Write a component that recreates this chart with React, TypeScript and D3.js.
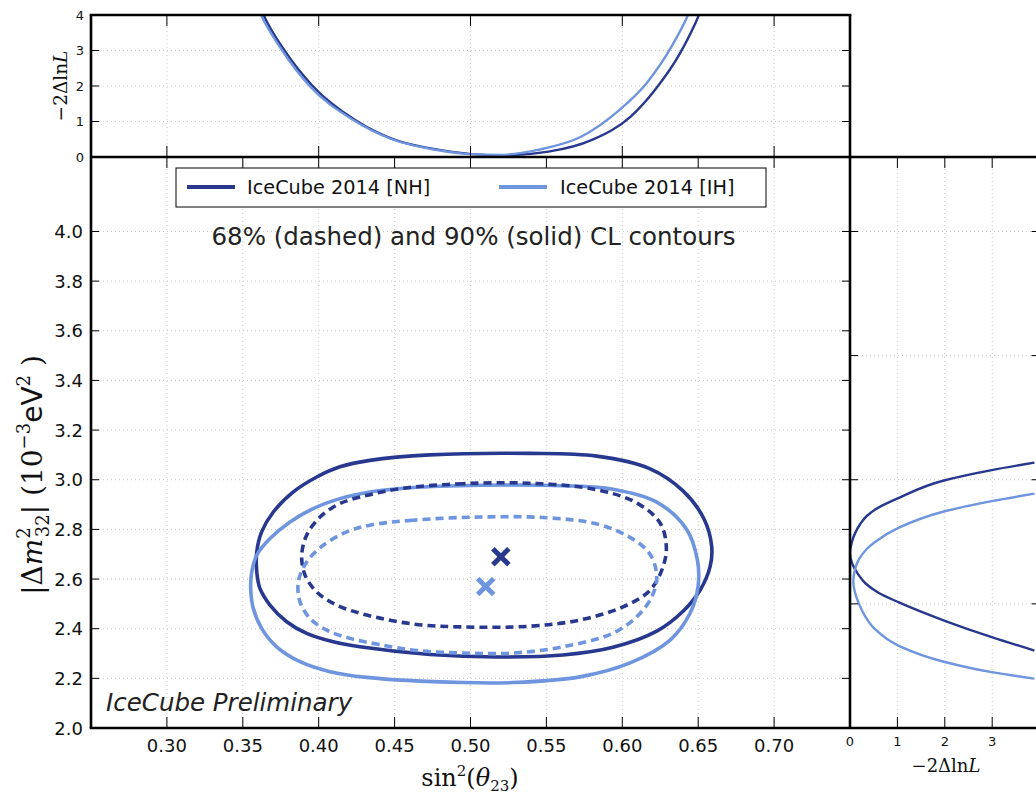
import React from "react";
import * as d3 from "d3";

// ---- data ----
const xTicksMain = [0.3, 0.35, 0.4, 0.45, 0.5, 0.55, 0.6, 0.65, 0.7];
const xTicksTop = [0.3, 0.4, 0.5, 0.6, 0.7];
const yTicksMain = [2.0, 2.2, 2.4, 2.6, 2.8, 3.0, 3.2, 3.4, 3.6, 3.8, 4.0];
const yTicksTop = [0, 1, 2, 3, 4];
const xTicksRight = [0, 1, 2, 3];
const yTicksRight = [2.5, 3.0, 3.5, 4.0];

const nh90: [number, number][] = [
  [0.4733, 3.100], [0.4338, 3.078], [0.414, 3.052], [0.3987, 3.011], [0.3833, 2.951],
  [0.3701, 2.87], [0.3624, 2.79], [0.3592, 2.709], [0.3592, 2.629], [0.3613, 2.562],
  [0.3679, 2.495], [0.3789, 2.428], [0.3921, 2.381], [0.4096, 2.347], [0.4272, 2.327],
  [0.4733, 2.296], [0.5173, 2.286], [0.5609, 2.294], [0.5939, 2.325], [0.6227, 2.39],
  [0.6400, 2.47], [0.6512, 2.555], [0.6578, 2.649], [0.6589, 2.73], [0.6540, 2.84],
  [0.6400, 2.955], [0.6180, 3.045], [0.5831, 3.095], [0.5392, 3.106],
];
const ih90: [number, number][] = [
  [0.5063, 2.978], [0.4600, 2.968], [0.4338, 2.951], [0.414, 2.924], [0.3964, 2.884],
  [0.3811, 2.83], [0.3679, 2.763], [0.3592, 2.696], [0.3559, 2.629], [0.3552, 2.562],
  [0.3569, 2.482], [0.3624, 2.401], [0.3723, 2.327], [0.3877, 2.267], [0.4074, 2.227],
  [0.4316, 2.204], [0.4951, 2.183], [0.528, 2.183], [0.5721, 2.206], [0.6051, 2.262],
  [0.6315, 2.354], [0.6447, 2.463], [0.6499, 2.569], [0.6495, 2.676], [0.6424, 2.80],
  [0.6227, 2.910], [0.5939, 2.962], [0.5609, 2.976],
];
const nh68: [number, number][] = [
  [0.5392, 2.986], [0.4951, 2.984], [0.4560, 2.966], [0.4338, 2.940], [0.414, 2.904],
  [0.4009, 2.85], [0.3921, 2.777], [0.3888, 2.696], [0.391, 2.616], [0.3987, 2.548],
  [0.4119, 2.495], [0.4316, 2.455], [0.4621, 2.419], [0.4951, 2.407], [0.5392, 2.41],
  [0.5721, 2.435], [0.6005, 2.488], [0.6183, 2.555], [0.6268, 2.649], [0.6290, 2.73],
  [0.6250, 2.825], [0.6100, 2.905], [0.5831, 2.960],
];
const ih68: [number, number][] = [
  [0.5063, 2.85], [0.4621, 2.837], [0.4338, 2.817], [0.4184, 2.79], [0.403, 2.736],
  [0.3921, 2.669], [0.3866, 2.589], [0.3877, 2.508], [0.3943, 2.441], [0.4053, 2.394],
  [0.4206, 2.361], [0.4400, 2.336], [0.4650, 2.312], [0.4950, 2.302], [0.528, 2.302],
  [0.5609, 2.327], [0.5939, 2.382], [0.6095, 2.448], [0.6194, 2.528], [0.6227, 2.609],
  [0.6183, 2.700], [0.6051, 2.768], [0.5831, 2.822], [0.5502, 2.847],
];
const bestFitNH: [number, number] = [0.52, 2.69];
const bestFitIH: [number, number] = [0.51, 2.57];

// top profile: [sin2, -2dlnL]
const topNH: [number, number][] = [
  [0.358, 4.6], [0.3637, 4.0], [0.3775, 3.0], [0.3960, 2.0], [0.4240, 1.04], [0.4503, 0.48],
  [0.4792, 0.2], [0.5009, 0.08], [0.5194, 0.04], [0.5514, 0.15], [0.58, 0.48],
  [0.6055, 1.14], [0.6215, 1.89], [0.638, 2.92], [0.6505, 4.0], [0.656, 4.6],
];
const topIH: [number, number][] = [
  [0.356, 4.6], [0.362, 4.0], [0.3760, 3.0], [0.3940, 2.0], [0.4225, 1.05], [0.4483, 0.5],
  [0.4773, 0.2], [0.4997, 0.08], [0.5194, 0.06], [0.5442, 0.2], [0.5728, 0.57],
  [0.598, 1.32], [0.616, 2.08], [0.6323, 3.1], [0.6433, 4.0], [0.649, 4.6],
];
// right profile: [dm2, -2dlnL]
const rightNH: [number, number][] = [
  [2.312, 3.89], [2.366, 2.99], [2.432, 2.0], [2.507, 1.02], [2.545, 0.6], [2.582, 0.33],
  [2.62, 0.17], [2.66, 0.05], [2.706, 0.0], [2.75, 0.04], [2.79, 0.12], [2.823, 0.22],
  [2.855, 0.36], [2.881, 0.54], [2.926, 1.02], [2.998, 2.0], [3.039, 2.99], [3.069, 3.89],
];
const rightIH: [number, number][] = [
  [2.199, 3.89], [2.225, 2.99], [2.266, 2.0], [2.332, 1.02], [2.398, 0.528], [2.45, 0.32],
  [2.50, 0.19], [2.55, 0.1], [2.59, 0.07], [2.635, 0.1], [2.68, 0.19], [2.72, 0.35],
  [2.748, 0.52], [2.806, 1.02], [2.873, 2.0], [2.914, 2.99], [2.944, 3.89],
];

const NH_COLOR = "#27388e";
const IH_COLOR = "#6e95de";

export default function App() {
  const W = 1036, H = 795;
  const L = 91, R = 850, T = 157, B = 728, TT = 15;
  const x = d3.scaleLinear().domain([0.25, 0.75]).range([L, R]);
  const y = d3.scaleLinear().domain([2.0, 4.3]).range([B, T]);
  const yTop = d3.scaleLinear().domain([0, 4]).range([T, TT]);
  const xR = d3.scaleLinear().domain([0, 4]).range([R, 1039.6]);

  const closed = d3.line<[number, number]>().x(d => x(d[0])).y(d => y(d[1])).curve(d3.curveCatmullRomClosed.alpha(0.5));
  const topLine = d3.line<[number, number]>().x(d => x(d[0])).y(d => yTop(d[1])).curve(d3.curveMonotoneX);
  const rightLine = d3.line<[number, number]>().x(d => xR(d[1])).y(d => y(d[0])).curve(d3.curveMonotoneY);

  const gridStyle = { stroke: "#c8c8c8", strokeWidth: 1, strokeDasharray: "1,3" };
  const font = "'DejaVu Sans', sans-serif";
  const serif = "'DejaVu Serif', serif";

  const cross = (p: [number, number], c: string, k: string) => {
    const cx = x(p[0]), cy = y(p[1]), s = 8;
    return (
      <g key={k} stroke={c} strokeWidth={5}>
        <line x1={cx - s} y1={cy - s} x2={cx + s} y2={cy + s} />
        <line x1={cx - s} y1={cy + s} x2={cx + s} y2={cy - s} />
      </g>
    );
  };

  const rNH = [...rightNH].reverse();
  const rIH = [...rightIH].reverse();

  return (
    <svg width={W} height={H} style={{ position: "absolute", left: 0, top: 0, background: "#fff" }}>
      <defs>
        <clipPath id="clipTop"><rect x={L} y={TT} width={R - L} height={T - TT} /></clipPath>
        <clipPath id="clipRight"><rect x={R} y={T} width={W - R} height={B - T} /></clipPath>
        <clipPath id="clipMain"><rect x={L} y={T} width={R - L} height={B - T} /></clipPath>
      </defs>
      <rect width={W} height={H} fill="#fff" />

      {/* grids */}
      <g>
        {xTicksMain.map(t => <line key={"gx" + t} x1={x(t)} x2={x(t)} y1={T} y2={B} style={gridStyle} />)}
        {yTicksMain.slice(1).map(t => <line key={"gy" + t} x1={L} x2={R} y1={y(t)} y2={y(t)} style={gridStyle} />)}
        {xTicksTop.map(t => <line key={"tgx" + t} x1={x(t)} x2={x(t)} y1={TT} y2={T} style={gridStyle} />)}
        {yTicksTop.slice(1, 4).map(t => <line key={"tgy" + t} x1={L} x2={R} y1={yTop(t)} y2={yTop(t)} style={gridStyle} />)}
        {xTicksRight.slice(1).map(t => <line key={"rgx" + t} x1={xR(t)} x2={xR(t)} y1={T} y2={B} style={gridStyle} />)}
        {yTicksRight.map(t => <line key={"rgy" + t} x1={R} x2={W} y1={y(t)} y2={y(t)} style={gridStyle} />)}
      </g>

      {/* contours */}
      <g clipPath="url(#clipMain)" fill="none" strokeWidth={3.6}>
        <path d={closed(nh90) || ""} stroke={NH_COLOR} />
        <path d={closed(ih90) || ""} stroke={IH_COLOR} />
        <path d={closed(nh68) || ""} stroke={NH_COLOR} strokeDasharray="8,5" />
        <path d={closed(ih68) || ""} stroke={IH_COLOR} strokeDasharray="8,5" />
        {cross(bestFitNH, NH_COLOR, "nh")}
        {cross(bestFitIH, IH_COLOR, "ih")}
      </g>

      {/* top profiles */}
      <g clipPath="url(#clipTop)" fill="none" strokeWidth={2.4}>
        <path d={topLine(topNH) || ""} stroke={NH_COLOR} />
        <path d={topLine(topIH) || ""} stroke={IH_COLOR} />
      </g>

      {/* right profiles */}
      <g clipPath="url(#clipRight)" fill="none" strokeWidth={2.4}>
        <path d={rightLine(rNH) || ""} stroke={NH_COLOR} />
        <path d={rightLine(rIH) || ""} stroke={IH_COLOR} />
      </g>

      {/* ticks */}
      <g stroke="#000" strokeWidth={1}>
        {xTicksMain.map(t => (
          <g key={"xt" + t}>
            <line x1={x(t)} x2={x(t)} y1={B} y2={B - 11} />
            <line x1={x(t)} x2={x(t)} y1={T} y2={T + 11} />
          </g>
        ))}
        {yTicksMain.map(t => (
          <g key={"yt" + t}>
            <line x1={L} x2={L + 8} y1={y(t)} y2={y(t)} />
            <line x1={R} x2={R - 8} y1={y(t)} y2={y(t)} />
          </g>
        ))}
        {xTicksTop.map(t => (
          <g key={"txt" + t}>
            <line x1={x(t)} x2={x(t)} y1={TT} y2={TT + 11} />
            <line x1={x(t)} x2={x(t)} y1={T} y2={T - 11} />
          </g>
        ))}
        {yTicksTop.map(t => (
          <g key={"tyt" + t}>
            <line x1={L} x2={L + 8} y1={yTop(t)} y2={yTop(t)} />
            <line x1={R} x2={R - 8} y1={yTop(t)} y2={yTop(t)} />
          </g>
        ))}
        {xTicksRight.map(t => (
          <g key={"rxt" + t}>
            <line x1={xR(t)} x2={xR(t)} y1={B} y2={B - 11} />
            <line x1={xR(t)} x2={xR(t)} y1={T} y2={T + 11} />
          </g>
        ))}
        {yTicksRight.map(t => (
          <g key={"ryt" + t}>
            <line x1={R} x2={R + 8} y1={y(t)} y2={y(t)} />
            <line x1={xR(4)} x2={xR(4) - 8} y1={y(t)} y2={y(t)} />
          </g>
        ))}
      </g>

      {/* frames */}
      <g stroke="#000" strokeWidth={2.6} fill="none">
        <line x1={L} x2={L} y1={TT} y2={B} />
        <line x1={R} x2={R} y1={TT} y2={B} />
        <line x1={L - 1.3} x2={R + 1.3} y1={TT} y2={TT} />
        <line x1={L} x2={W} y1={T} y2={T} />
        <line x1={L - 1.3} x2={W} y1={B} y2={B} />
      </g>

      {/* tick labels */}
      <g fontFamily={font} fill="#111">
        {xTicksMain.map(t => (
          <text key={"xl" + t} x={x(t)} y={752} fontSize={18} textAnchor="middle">{t.toFixed(2)}</text>
        ))}
        {yTicksMain.map(t => (
          <text key={"yl" + t} x={83} y={y(t) + 6.5} fontSize={18} textAnchor="end">{t.toFixed(1)}</text>
        ))}
        {yTicksTop.map(t => (
          <text key={"tyl" + t} x={84} y={yTop(t) + 4.5} fontSize={13} textAnchor="end">{t}</text>
        ))}
        {xTicksRight.map(t => (
          <text key={"rxl" + t} x={xR(t)} y={746} fontSize={13} textAnchor="middle">{t}</text>
        ))}
      </g>

      {/* axis labels */}
      <text x={470} y={786} fontFamily={serif} fontSize={24} textAnchor="middle" fill="#111">
        sin<tspan fontSize={15} dy={-10}>2</tspan><tspan dy={10}>(</tspan><tspan fontStyle="italic">θ</tspan><tspan fontSize={15} dy={5}>23</tspan><tspan dy={-5}>)</tspan>
      </text>
      <text transform="translate(42,475) rotate(-90)" fontFamily={serif} fontSize={28} textAnchor="middle" fill="#111">
        |Δ<tspan fontStyle="italic">m</tspan><tspan fontSize={18} dy={-12}>2</tspan><tspan fontSize={18} dx={-10} dy={19}>32</tspan><tspan dy={-7}>| (10</tspan><tspan fontSize={18} dy={-12}>−3</tspan><tspan fontFamily={font} dy={12}>eV</tspan><tspan fontSize={18} dy={-12}>2</tspan><tspan dy={12}> )</tspan>
      </text>
      <text transform="translate(67,86) rotate(-90)" fontFamily={serif} fontSize={18.5} textAnchor="middle" fill="#111">
        −2Δln<tspan fontStyle="italic">L</tspan>
      </text>
      <text x={946} y={772} fontFamily={serif} fontSize={18} textAnchor="middle" fill="#111">
        −2Δln<tspan fontStyle="italic">L</tspan>
      </text>

      {/* legend */}
      <rect x={176} y={168} width={590} height={39} fill="#fff" stroke="#000" strokeWidth={1} />
      <line x1={187} x2={235} y1={187} y2={187} stroke={NH_COLOR} strokeWidth={4} />
      <text x={247} y={194} fontFamily={font} fontSize={19.3} fill="#111">IceCube 2014 [NH]</text>
      <line x1={499} x2={547} y1={187} y2={187} stroke={IH_COLOR} strokeWidth={4} />
      <text x={560} y={194} fontFamily={font} fontSize={19.3} fill="#111">IceCube 2014 [IH]</text>

      <text x={473.5} y={245} fontFamily={font} fontSize={24.5} textAnchor="middle" fill="#222">68% (dashed) and 90% (solid) CL contours</text>
      <text x={106} y={711} fontFamily={font} fontSize={24.5} fontStyle="italic" fill="#222">IceCube Preliminary</text>
    </svg>
  );
}
